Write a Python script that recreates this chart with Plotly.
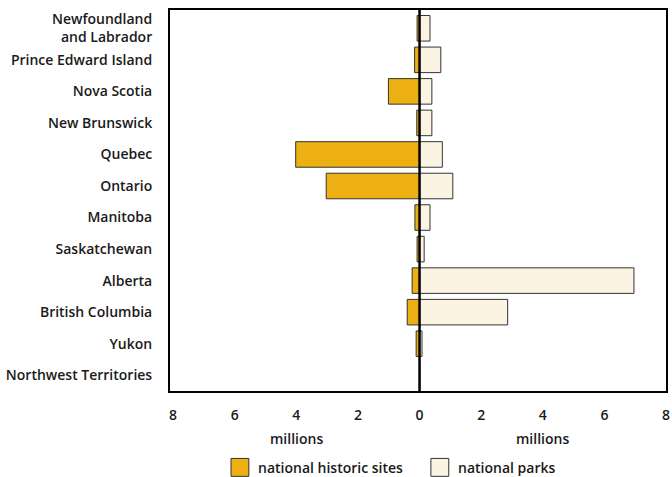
import plotly.graph_objects as go

# Provinces and territories, top to bottom
regions = [
    "Newfoundland<br>and Labrador",
    "Prince Edward Island",
    "Nova Scotia",
    "New Brunswick",
    "Quebec",
    "Ontario",
    "Manitoba",
    "Saskatchewan",
    "Alberta",
    "British Columbia",
    "Yukon",
    "Northwest Territories",
]

# Visitors, in millions
historic_sites = [0.08, 0.16, 1.01, 0.09, 4.02, 3.03, 0.15, 0.08, 0.24, 0.40, 0.11, 0.0]
national_parks = [0.34, 0.69, 0.40, 0.40, 0.74, 1.08, 0.34, 0.15, 6.96, 2.86, 0.08, 0.0]

tick_values = [-8, -6, -4, -2, 0, 2, 4, 6, 8]
tick_labels = ["8", "6", "4", "2", "0", "2", "4", "6", "8"]

series_names = ["national historic sites", "national parks"]

FONT = "Open Sans"
ORANGE = "#EDB012"
CREAM = "#FCF4E3"
OUTLINE = "#333333"

fig = go.Figure()
fig.add_trace(go.Bar(
    y=regions, x=[-v for v in historic_sites], orientation="h",
    name=series_names[0],
    marker=dict(color=ORANGE, line=dict(color=OUTLINE, width=1)),
))
fig.add_trace(go.Bar(
    y=regions, x=national_parks, orientation="h",
    name=series_names[1],
    marker=dict(color=CREAM, line=dict(color=OUTLINE, width=1)),
))

fig.update_layout(
    width=672, height=477,
    margin=dict(l=170, r=6, t=10, b=86, autoexpand=False),
    barmode="relative",
    bargap=0.19,
    showlegend=False,
    plot_bgcolor="white",
    paper_bgcolor="white",
    font=dict(family=FONT, size=14, color="#1a1a1a", weight=600),
    xaxis=dict(
        range=[-8.1, 8], tickvals=tick_values, ticktext=tick_labels,
        showgrid=False, zeroline=False,
        showline=True, mirror=True, linecolor="black", linewidth=2,
        ticks="", ticklabelstandoff=10, ticklabeloverflow="allow",
        fixedrange=True,
    ),
    yaxis=dict(
        range=[11.5, -0.58],
        showgrid=False, zeroline=False,
        showline=True, mirror=True, linecolor="black", linewidth=2,
        ticks="", ticklabelstandoff=13,
        fixedrange=True,
    ),
)

# Vertical axis at zero, drawn over the bars
fig.add_shape(type="line", xref="x", yref="paper", x0=0, x1=0, y0=0, y1=1,
              line=dict(color="black", width=2.5), layer="above")

# Unit labels under each half of the axis
for xpos in (-4, 4):
    fig.add_annotation(x=xpos, xref="x", y=-0.124, yref="paper", text="millions",
                       showarrow=False, yanchor="middle",
                       font=dict(family=FONT, size=14, weight=600))

# Legend keys: swatch and label for each series
legend_keys = [(0.123, ORANGE, series_names[0]), (0.526, CREAM, series_names[1])]
for x0, color, label in legend_keys:
    fig.add_shape(type="rect", xref="paper", yref="paper",
                  x0=x0, x1=x0 + 0.036, y0=-0.224, y1=-0.177,
                  fillcolor=color, line=dict(color=OUTLINE, width=1))
    fig.add_annotation(x=x0 + 0.05, xref="paper", y=-0.2, yref="paper",
                       text=label, showarrow=False, xanchor="left", yanchor="middle",
                       font=dict(family=FONT, size=14, weight=600))

fig.write_html("out.html")
